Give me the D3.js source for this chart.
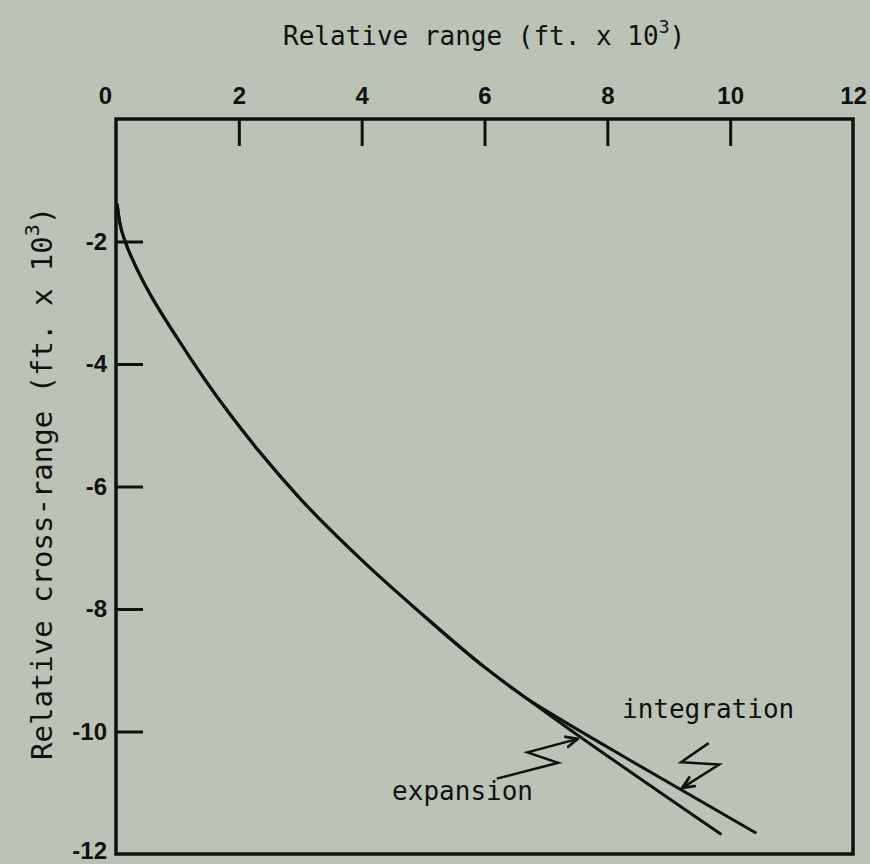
<!DOCTYPE html>
<html>
<head>
<meta charset="utf-8">
<script src="https://cdn.jsdelivr.net/npm/d3@7"></script>
<style>
  body { margin: 0; background: #bac3b5; }
  #graphic svg { display: block; }
  .tick text { font-family: "Liberation Sans", Arial, sans-serif; font-weight: bold; font-size: 24px; fill: #111; }
  .lbl { font-family: "DejaVu Sans Mono", monospace; fill: #111; }
</style>
</head>
<body>
<div id="graphic"></div>
<script>
// axis ticks
var xTicks = [0, 2, 4, 6, 8, 10, 12];
var yTicks = [-2, -4, -6, -8, -10, -12];

// shared part of the trajectory (range, cross-range in ft x 10^3)
var commonX = [0.02, 0.06, 0.15, 0.3, 0.5, 1.0, 1.45, 2.35, 3, 4, 5, 6, 6.7];
var commonY = [-1.4, -1.68, -2.0, -2.36, -2.76, -3.58, -4.26, -5.45, -6.2, -7.2, -8.1, -8.95, -9.47];

// the two solutions split near the end
var integrationX = [7.07, 8.37, 10.41];
var integrationY = [-9.70, -10.47, -11.65];
var expansionX = [7.07, 7.52, 9.84];
var expansionY = [-9.74, -10.06, -11.67];

// zig-zag pointers for the labels
var integrationArrowX = [9.65, 9.2, 9.82, 9.22];
var integrationArrowY = [-10.19, -10.5, -10.54, -10.92];
var expansionArrowX = [6.2, 7.2, 6.7, 7.52];
var expansionArrowY = [-10.77, -10.51, -10.34, -10.12];

var graphic = new Object;

graphic.create = function() {
  var x, y, svg, line, plain, integ, expan, xa, ya, t, yl;

  x = d3.scaleLinear().domain([0, 12]).range([116, 853]);
  y = d3.scaleLinear().domain([0, -12]).range([119, 854]);

  svg = d3.select("#graphic").append("svg").attr("width", 870).attr("height", 864);

  svg.append("defs").append("marker")
    .attr("id", "arr").attr("viewBox", "0 0 10 10").attr("refX", 9).attr("refY", 5)
    .attr("markerWidth", 14).attr("markerHeight", 14).attr("markerUnits", "userSpaceOnUse")
    .attr("orient", "auto")
    .append("path").attr("d", "M0,1 L9,5 L0,9").attr("fill", "none").attr("stroke", "#111").attr("stroke-width", 2);

  // frame
  svg.append("rect").attr("x", x(0)).attr("y", y(0))
    .attr("width", x(12) - x(0)).attr("height", y(-12) - y(0))
    .attr("fill", "none").attr("stroke", "#111").attr("stroke-width", 3.5);

  xa = svg.append("g").attr("transform", "translate(0," + y(0) + ")")
    .call(d3.axisTop(x).tickValues(xTicks).tickSizeInner(-27).tickSizeOuter(0).tickPadding(15));
  ya = svg.append("g").attr("transform", "translate(" + x(0) + ",0)")
    .call(d3.axisLeft(y).tickValues(yTicks).tickSizeInner(-27).tickSizeOuter(0).tickPadding(9)
      .tickFormat(function(d) { return "-" + Math.abs(d); }));
  [xa, ya].forEach(function(g) {
    g.select(".domain").remove();
    g.selectAll(".tick line").attr("stroke", "#111").attr("stroke-width", 3)
      .filter(function(d) { return d === 0 || d === 12 || d === -12; }).remove();
  });
  xa.selectAll(".tick text").filter(function(d) { return d === 0; }).attr("dx", -11);
  ya.selectAll(".tick text").filter(function(d) { return d === -12; }).attr("dy", "0.2em");

  line = d3.line().x(function(d) { return x(d[0]); }).y(function(d) { return y(d[1]); })
    .curve(d3.curveMonotoneX);
  plain = d3.line().x(function(d) { return x(d[0]); }).y(function(d) { return y(d[1]); });

  integ = commonX.map(function(v, i) { return [v, commonY[i]]; })
    .concat(integrationX.map(function(v, i) { return [v, integrationY[i]]; }));
  expan = commonX.map(function(v, i) { return [v, commonY[i]]; })
    .concat(expansionX.map(function(v, i) { return [v, expansionY[i]]; }));

  svg.selectAll(".curve").data([integ, expan]).enter().append("path")
    .attr("class", "curve").attr("d", line)
    .attr("fill", "none").attr("stroke", "#111").attr("stroke-width", 3).attr("stroke-linecap", "round");

  svg.selectAll(".pointer").data([
    integrationArrowX.map(function(v, i) { return [v, integrationArrowY[i]]; }),
    expansionArrowX.map(function(v, i) { return [v, expansionArrowY[i]]; })
  ]).enter().append("path")
    .attr("class", "pointer").attr("d", plain)
    .attr("fill", "none").attr("stroke", "#111").attr("stroke-width", 2.5)
    .attr("marker-end", "url(#arr)");

  svg.append("text").attr("class", "lbl").attr("x", 622).attr("y", 718)
    .attr("font-size", 26).text("integration");
  svg.append("text").attr("class", "lbl").attr("x", 533).attr("y", 800)
    .attr("text-anchor", "end").attr("font-size", 26).text("expansion");

  // axis titles
  t = svg.append("text").attr("class", "lbl").attr("x", 283).attr("y", 45).attr("font-size", 26);
  t.append("tspan").text("Relative range (ft. x 10");
  t.append("tspan").attr("dy", -12).attr("font-size", 18).text("3");
  t.append("tspan").attr("dy", 12).text(")");

  yl = svg.append("text").attr("class", "lbl").attr("font-size", 29)
    .attr("transform", "translate(52,760) rotate(-90)");
  yl.append("tspan").text("Relative cross-range (ft. x 10");
  yl.append("tspan").attr("dy", -13).attr("font-size", 20).text("3");
  yl.append("tspan").attr("dy", 13).text(")");
};

graphic.create();
</script>
</body>
</html>
